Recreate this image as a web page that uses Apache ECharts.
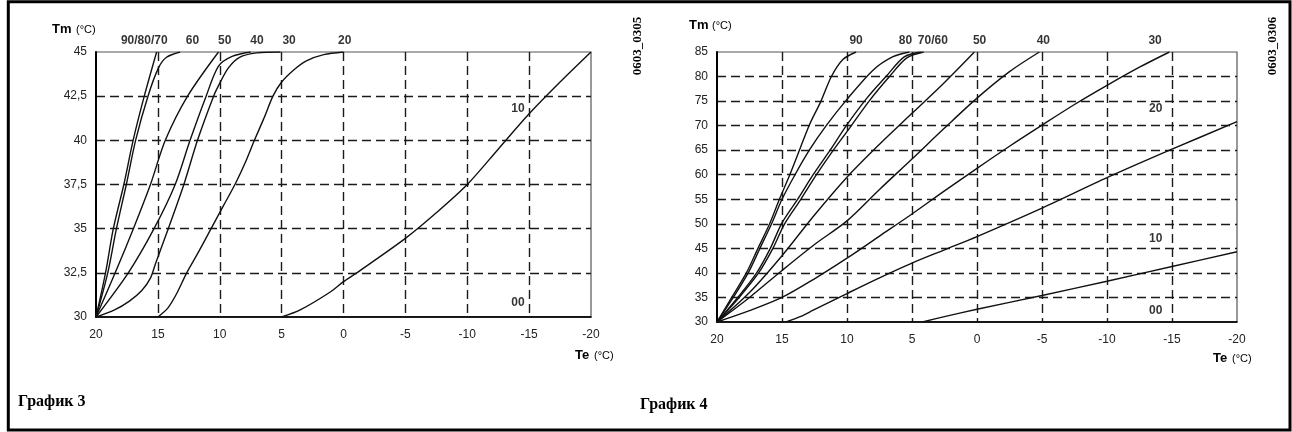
<!DOCTYPE html>
<html><head><meta charset="utf-8">
<script src="https://cdn.jsdelivr.net/npm/echarts@6/dist/echarts.min.js"></script>
<style>html,body{margin:0;padding:0;background:#fff}#c{width:1292px;height:432px}</style>
</head><body><div id="c"></div>
<script>
// ---------- data: График 3 (Te -> Tm, 30..45) ----------
const xTicks = [20, 15, 10, 5, 0, -5, -10, -15, -20];
const yTicks3 = [30, 32.5, 35, 37.5, 40, 42.5, 45];
const yTicks4 = [30, 35, 40, 45, 50, 55, 60, 65, 70, 75, 80, 85];

const g3_90_80_70 = [[20,30],[19.23,32.5],[18.6,35],[17.75,37.5],[17.0,40],[16.1,42.5],[15.1,45]];
const g3_60 = [[20,30],[19.05,32.5],[18.35,35],[17.55,37.5],[16.8,40],[15.8,42.5],[14.95,44.1],[14.3,44.7],[13.2,45]];
const g3_50 = [[20,30],[18.45,32.5],[16.98,35],[15.6,37.5],[14.4,40],[12.6,42.5],[10.1,45]];
const g3_40 = [[20,30],[17.39,32.5],[15.31,35],[13.6,37.5],[12.4,40],[11.1,42.5],[10.1,44.2],[9.0,44.75],[7.5,45]];
const g3_30 = [[20,30],[18.5,30.4],[17.3,30.9],[16.3,31.5],[15.6,32.2],[15.2,33],[14.16,35],[12.9,37.5],[11.8,40],[10.5,42.5],[10.1,43.1],[9.3,44.1],[8.4,44.7],[7.0,44.95],[5.1,45]];
const g3_20 = [[15,30],[14.2,30.5],[13.5,31.3],[12.67,32.5],[11.7,33.7],[10.7,35],[9.7,36.3],[8.7,37.6],[7.9,38.8],[7.2,40],[6.4,41.3],[5.7,42.5],[5.0,43.3],[4.0,44.0],[3.0,44.5],[1.6,44.85],[0,45]];
const g3_10 = [[5,30],[3.5,30.4],[1.1,31.4],[0,32],[-1.07,32.5],[-5,34.45],[-7.5,35.9],[-10,37.5],[-12.5,39.5],[-15,41.5],[-17.5,43.3],[-20,45]];
const g3_00 = [[20,30],[-20,30]];
const g3Names = ['90/80/70','60','50','40','30','20','10','00'];
const g3Lines = [g3_90_80_70, g3_60, g3_50, g3_40, g3_30, g3_20, g3_10, g3_00];
// curve label anchors [text, Te, Tm]
const g3Labels = [['90/80/70',16.1,45],['60',12.2,45],['50',9.6,45],['40',7.0,45],['30',4.4,45],['20',-0.1,45],['10',-14.1,41.8],['00',-14.1,30.8]];

// ---------- data: График 4 (Te -> Tm, 30..85) ----------
const g4_90 = [[20,30],[18.87,35],[17.74,40],[16.85,45],[15.95,50],[15.2,55],[14.4,60],[13.6,65.4],[12.87,70.3],[12.0,75],[11.2,80],[10.3,83.5],[9.3,85]];
const g4_80 = [[20,30],[18.75,35],[17.6,40],[16.7,45],[15.8,50],[15.0,55],[14.0,60],[12.9,65],[11.6,70],[10.05,75.2],[8.0,81.3],[6.5,84],[5.2,85]];
const g4_70 = [[20,30],[18.4,35],[16.95,40],[15.9,45],[15.0,50.2],[13.8,55],[12.6,60],[11.3,65],[10.05,70],[8.5,75.5],[7.0,80],[5.6,84],[4.3,85]];
const g4_60 = [[20,30],[18.3,35],[16.8,40],[15.7,45],[14.8,50],[13.55,55],[12.35,60],[11.05,65],[9.8,69.5],[8.3,75],[6.8,79.8],[5.4,83.8],[4.1,85]];
const g4_50 = [[20,30],[17.5,36],[15,43.5],[12.5,51.8],[10,59.5],[7.5,66.2],[5,72.5],[2.5,78.8],[0.2,85]];
const g4_40 = [[20,30],[17.5,35],[15,40.5],[12.5,45.8],[10,50.6],[7.5,57],[5,63.2],[2.5,69.5],[0,75.6],[-2.5,81],[-4.8,85]];
const g4_30 = [[20,30],[17.5,32.3],[15,35],[12.5,38.8],[10,43],[7.5,47.5],[5,52],[2.5,56.7],[0,61.3],[-2.5,65.8],[-5,70.1],[-7.5,74.3],[-10,78.2],[-12.5,81.9],[-14.8,85]];
const g4_20 = [[14.7,30],[13.5,31.2],[12.6,32.4],[10,35.8],[7.5,39],[5,42],[2.5,44.7],[0,47.4],[-5,53.2],[-10,59.4],[-15,65.2],[-20,70.8]];
const g4_10 = [[4.2,30],[2.5,31.1],[0,32.6],[-5,35.4],[-10,38.3],[-15,41.3],[-20,44.3]];
const g4_00 = [[20,30],[-20,30]];
const g4Names = ['90','80','70','60','50','40','30','20','10','00'];
const g4Lines = [g4_90, g4_80, g4_70, g4_60, g4_50, g4_40, g4_30, g4_20, g4_10, g4_00];
const g4Labels = [['90',9.3,85],['80',5.5,85],['70/60',3.4,85],['50',-0.2,85],['40',-5.1,85],['30',-13.7,85],['20',-13.75,73.5],['10',-13.75,47.05],['00',-13.75,32.4]];

// ---------- chart ----------
const chart = echarts.init(document.getElementById('c'), null, {renderer: 'canvas'});
const FONT = '"Liberation Sans", Arial, sans-serif';
const INK = '#111';

function xAxisCfg(gi) {
  return {
    gridIndex: gi, type: 'value', min: xTicks[xTicks.length - 1], max: xTicks[0], interval: 5, inverse: true,
    axisLine: {show: true, onZero: false, lineStyle: {color: '#000', width: 1.6}},
    axisTick: {show: false},
    axisLabel: {color: '#222', fontFamily: FONT, fontSize: 12, margin: 12},
    splitLine: {show: true, showMinLine: false, showMaxLine: false, lineStyle: {color: '#1a1a1a', width: 1.4, type: [9, 5]}}
  };
}
function yAxisCfg(gi, ticks, fmt) {
  return {
    gridIndex: gi, type: 'value', min: ticks[0], max: ticks[ticks.length - 1], interval: ticks[1] - ticks[0],
    axisLine: {show: true, onZero: false, lineStyle: {color: '#000', width: 2}},
    axisTick: {show: false},
    axisLabel: {color: '#222', fontFamily: FONT, fontSize: 12, margin: 9, formatter: fmt},
    splitLine: {show: true, showMinLine: false, showMaxLine: false, lineStyle: {color: '#1a1a1a', width: 1.4, type: [9, 5]}}
  };
}

const series = [];
function addLines(gi, names, lines) {
  names.forEach((n, i) => {
    series.push({
      type: 'line', name: n, xAxisIndex: gi, yAxisIndex: gi, data: lines[i],
      showSymbol: false, smooth: 0.3, silent: true, z: 3,
      lineStyle: {color: INK, width: 1.4}
    });
  });
}
function addLabels(gi, labels, topVal) {
  series.push({
    type: 'scatter', xAxisIndex: gi, yAxisIndex: gi, symbolSize: 0, silent: true, z: 5,
    data: labels.map(l => ({
      name: l[0], value: [l[1], l[2]],
      label: {offset: [0, l[2] === topVal ? -11 : 0]}
    })),
    label: {show: true, position: 'inside', formatter: '{b}', color: '#000', fontFamily: FONT, fontSize: 12, fontWeight: 'bold'}
  });
}
addLines(0, g3Names, g3Lines);
addLines(1, g4Names, g4Lines);
addLabels(0, g3Labels, 45);
addLabels(1, g4Labels, 85);

function txt(x, y, text, font) {
  return {type: 'text', x: x, y: y, silent: true, z: 10,
    style: {text: text, font: font, fill: '#000', align: 'left', verticalAlign: 'middle'}};
}

const graphic = [
  {type: 'rect', silent: true, z: 0, shape: {x: 8.3, y: 1.7, width: 1281.7, height: 428.3},
   style: {fill: 'none', stroke: '#000', lineWidth: 3}},
  txt(52, 29, 'Tm', 'bold 13px ' + FONT),
  txt(76, 30, '(°C)', '11px ' + FONT),
  txt(689, 25, 'Tm', 'bold 13px ' + FONT),
  txt(712, 26, '(°C)', '11px ' + FONT),
  txt(575, 355, 'Te', 'bold 13px ' + FONT),
  txt(594, 356, '(°C)', '11px ' + FONT),
  txt(1213, 358, 'Te', 'bold 13px ' + FONT),
  txt(1232, 359, '(°C)', '11px ' + FONT),
  {type: 'text', x: 638, y: 46, rotation: Math.PI / 2, silent: true, z: 10,
   style: {text: '0603_0305', font: 'bold 13px "Liberation Serif", serif', fill: '#000', align: 'center', verticalAlign: 'middle'}},
  {type: 'text', x: 1273, y: 46, rotation: Math.PI / 2, silent: true, z: 10,
   style: {text: '0603_0306', font: 'bold 13px "Liberation Serif", serif', fill: '#000', align: 'center', verticalAlign: 'middle'}},
  txt(18, 402, 'График 3', 'bold 16px "Liberation Serif", serif'),
  txt(640, 405, 'График 4', 'bold 16px "Liberation Serif", serif')
];

chart.setOption({
  animation: false,
  backgroundColor: '#fff',
  grid: [
    {left: 96, top: 52, width: 495, height: 265, show: true, borderColor: '#555', borderWidth: 1.2, backgroundColor: 'transparent'},
    {left: 717, top: 52, width: 520, height: 270, show: true, borderColor: '#555', borderWidth: 1.2, backgroundColor: 'transparent'}
  ],
  xAxis: [xAxisCfg(0), xAxisCfg(1)],
  yAxis: [
    yAxisCfg(0, yTicks3, v => String(v).replace('.', ',')),
    yAxisCfg(1, yTicks4, v => String(v))
  ],
  series: series,
  graphic: graphic
});
</script>
</body></html>
